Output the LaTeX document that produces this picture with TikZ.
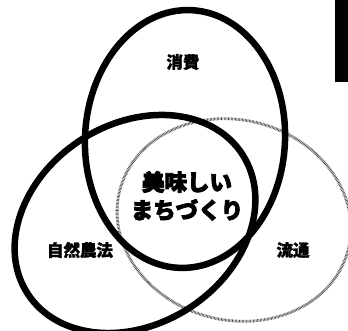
\documentclass[tikz,border=0pt]{standalone}
\usepackage{fontspec}
\newfontfamily\cjk{Noto Sans CJK JP}[FakeBold=1.6]
\newfontfamily\cjkheavy{Noto Sans CJK JP}[FakeBold=3.6]
\tikzset{
  thickring/.style={draw=black, line width=6.5pt},
  dotring/.style={draw=black!75, line width=2.8pt, dash pattern=on 0.6pt off 0.8pt},
  label/.style={font=\cjk\bfseries\fontsize{16.5}{18}\selectfont, inner sep=0pt},
  biglabel/.style={font=\cjkheavy\bfseries\fontsize{22.5}{28}\selectfont, inner sep=0pt, align=center},
}
\begin{document}
\begin{tikzpicture}[x=1pt,y=1pt]
\useasboundingbox (0,0) rectangle (348,331);
\clip (0,0) rectangle (348,331);
\fill[white] (0,0) rectangle (348,331);
% dotted ring (流通)
\draw[dotring] (234,111) ellipse[x radius=118, y radius=100, rotate=-15];
% thick rings
\draw[thickring] (185,192) ellipse[x radius=100, y radius=129, rotate=-3];
\draw[thickring] (135,107) ellipse[x radius=128, y radius=100, rotate=33];
% black bar top right
\fill[black] (335,249) rectangle (348,331);
% labels
\node[label] (shohi) at (183,269) {消費};
\node[label] (nouhou) at (80,81) {自然農法};
\node[label] (ryutsu) at (293,81) {流通};
\node[biglabel] (center) at (187,135) {美味しい\\まちづくり};
\end{tikzpicture}
\end{document}
